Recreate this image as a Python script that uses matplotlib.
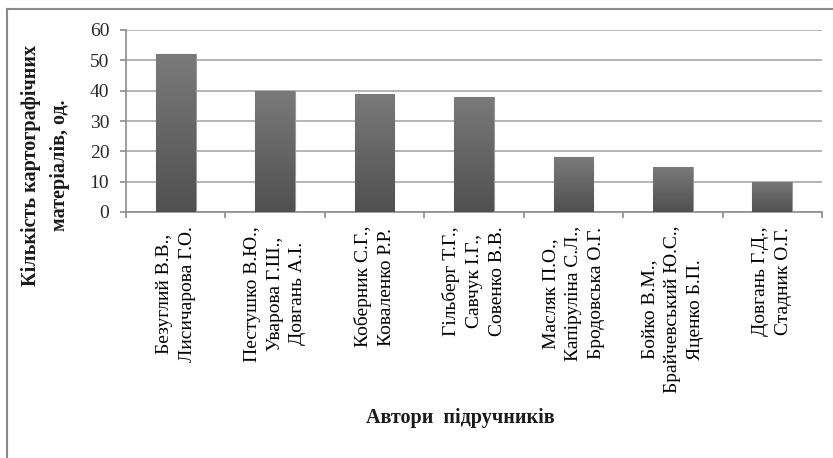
import numpy as np
import matplotlib
matplotlib.use('Agg')
import matplotlib.pyplot as plt
from matplotlib.lines import Line2D

# Дані діаграми
автори = [
    'Безуглий В.В.,\nЛисичарова Г.О.',
    'Пестушко В.Ю.,\nУварова Г.Ш.,\nДовгань А.І.',
    'Коберник С.Г.,\nКоваленко Р.Р.',
    'Гільберг Т.Г.,\nСавчук І.Г.,\nСовенко В.В.',
    'Масляк П.О.,\nКапіруліна С.Л.,\nБродовська О.Г.',
    'Бойко В.М.,\nБрайчевський Ю.С.,\nЯценко Б.П.',
    'Довгань Г.Д.,\nСтадник О.Г.',
]
кількість = [52, 40, 39, 38, 18, 15, 10]
поділки_y = [0, 10, 20, 30, 40, 50, 60]

W, H = 833, 458
plt.rcParams['font.family'] = ['Liberation Serif', 'DejaVu Serif']

fig = plt.figure(figsize=(W / 100, H / 100), dpi=100)
ax = fig.add_axes([126 / W, 1 - 212 / H, (822 - 126) / W, (212 - 30) / H])

x = np.arange(len(кількість))
bars = ax.bar(x, кількість, width=0.4, color='#606060', edgecolor='#9a9a9a',
              linewidth=0.8, zorder=3)

# градієнт на стовпчиках
cmap = matplotlib.colors.LinearSegmentedColormap.from_list('g', ['#505050', '#7a7a7a'])
grad = np.linspace(0, 1, 100).reshape(-1, 1)
for b in bars:
    x0, y0 = b.get_x(), b.get_y()
    im = ax.imshow(grad, extent=(x0, x0 + b.get_width(), y0, y0 + b.get_height()),
                   cmap=cmap, origin='lower', aspect='auto', zorder=3.5)
    im.set_clip_path(b)

ax.set_xlim(-0.5, len(кількість) - 0.5)
ax.set_ylim(0, 60)
ax.set_yticks(поділки_y)
ax.set_yticklabels([str(v) for v in поділки_y])
ax.yaxis.grid(True, color='#a8a8a8', linewidth=1.2, zorder=0)
ax.set_axisbelow(True)

for s in ['top', 'right']:
    ax.spines[s].set_visible(False)
for s in ['left', 'bottom']:
    ax.spines[s].set_color('#8c8c8c')
    ax.spines[s].set_linewidth(1.2)

ax.tick_params(axis='y', direction='out', length=4, width=1.2, color='#8c8c8c',
               pad=8, labelsize=14, labelcolor='#2a2a2a')

# підписи категорій і поділки між ними
ax.set_xticks(x)
ax.set_xticklabels(автори, rotation=90, fontsize=14, linespacing=1.45,
                   ha='center', va='top', multialignment='center')
ax.tick_params(axis='x', which='major', length=0, pad=10)
ax.set_xticks(np.arange(len(кількість) + 1) - 0.5, minor=True)
ax.tick_params(axis='x', which='minor', direction='out', length=4, width=1.2,
               color='#8c8c8c')

fig.text(46 / W, 1 - 165 / H, 'Кількість картографічних\nматеріалів, од.',
         rotation=90, ha='center', va='center', fontsize=14.5,
         fontweight='bold', linespacing=1.6, color='#1a1a1a')
fig.text(460 / W, 1 - 418 / H, 'Автори  підручників', ha='center', va='center',
         fontsize=14.5, fontweight='bold', color='#1a1a1a')

# рамка діаграми
fig.add_artist(Line2D([6.5 / W, 6.5 / W], [0, 1 - 8.5 / H], transform=fig.transFigure,
                      color='#8a8a8a', linewidth=1.5))
fig.add_artist(Line2D([6.5 / W, 1], [1 - 8.5 / H, 1 - 8.5 / H], transform=fig.transFigure,
                      color='#8a8a8a', linewidth=1.5))

fig.savefig('out.png', dpi=100)
